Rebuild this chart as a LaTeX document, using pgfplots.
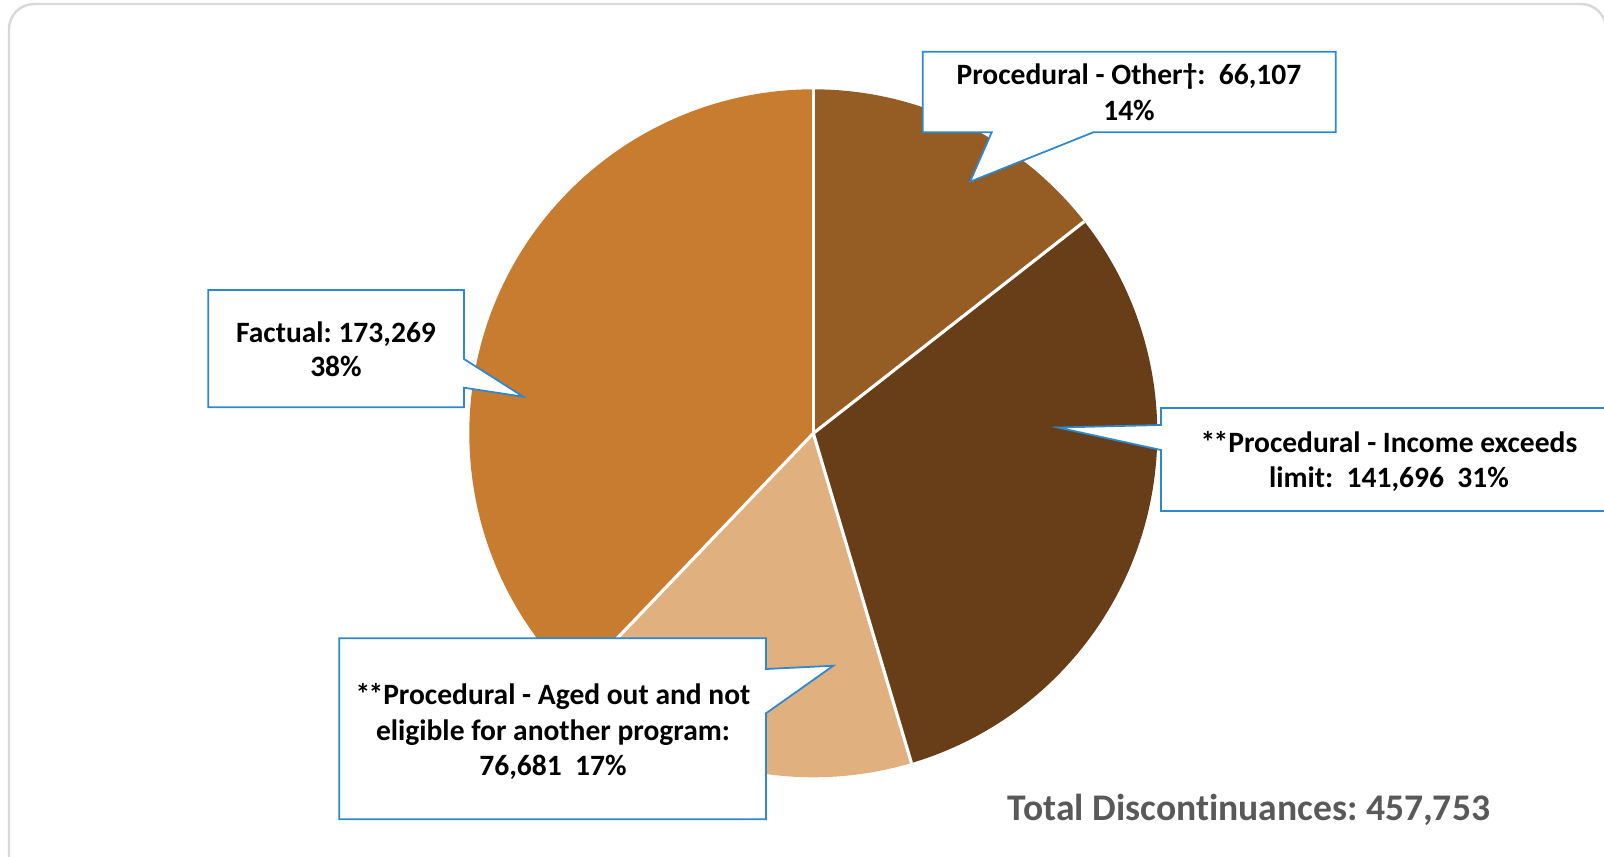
\documentclass[border=0pt]{standalone}
\usepackage{fontspec}
\setmainfont[Ligatures=NoCommon]{Carlito}
\usepackage{pgfplots}
\usepackage{pgfplotstable}
\pgfplotsset{compat=1.18}
\frenchspacing
\definecolor{cOther}{HTML}{955C23}
\definecolor{cIncome}{HTML}{673E18}
\definecolor{cAged}{HTML}{E0B07F}
\definecolor{cFact}{HTML}{C87C2F}
\definecolor{cBox}{HTML}{2E88CE}
\definecolor{cTot}{HTML}{595959}
\definecolor{cFrame}{HTML}{D9D9D9}
\pgfplotstableread[col sep=comma]{
label,value
Other,66107
Income,141696
Aged,76681
Factual,173269
}\piedata
\begin{document}
\frenchspacing
\begin{tikzpicture}
\pgfplotstablegetelem{0}{value}\of\piedata \let\va\pgfplotsretval
\pgfplotstablegetelem{1}{value}\of\piedata \let\vb\pgfplotsretval
\pgfplotstablegetelem{2}{value}\of\piedata \let\vc\pgfplotsretval
\pgfplotstablegetelem{3}{value}\of\piedata \let\vd\pgfplotsretval
\pgfkeys{/pgf/fpu=true,/pgf/fpu/output format=fixed}
\pgfmathsetmacro\tot{\va+\vb+\vc+\vd}
\pgfmathsetmacro\aA{90-360*\va/\tot}
\pgfmathsetmacro\aB{\aA-360*\vb/\tot}
\pgfmathsetmacro\aC{\aB-360*\vc/\tot}
\pgfkeys{/pgf/fpu=false}
\def\PR{3.44cm}
\begin{axis}[
  width=16.04cm, height=8.56cm, scale only axis,
  xmin=0, xmax=1604, ymin=0, ymax=856, y dir=reverse,
  hide axis, clip=true,
]
% frame
\draw[cFrame, line width=0.7pt, rounded corners=0.25cm]
  (axis cs:9,860) -- (axis cs:9,4) -- (axis cs:1606,4) -- (axis cs:1606,860);
% pie wedges
\fill[cOther] (axis cs:813.3,433.3) -- ++(90:\PR) arc[start angle=90, end angle=\aA, radius=\PR] -- cycle;
\fill[cIncome] (axis cs:813.3,433.3) -- ++(\aA:\PR) arc[start angle=\aA, end angle=\aB, radius=\PR] -- cycle;
\fill[cAged] (axis cs:813.3,433.3) -- ++(\aB:\PR) arc[start angle=\aB, end angle=\aC, radius=\PR] -- cycle;
\fill[cFact] (axis cs:813.3,433.3) -- ++(\aC:\PR) arc[start angle=\aC, end angle=-270, radius=\PR] -- cycle;
\draw[white, line width=0.9pt] (axis cs:813.3,433.3) -- ++(90:\PR);
\draw[white, line width=0.9pt] (axis cs:813.3,433.3) -- ++(\aA:\PR);
\draw[white, line width=0.9pt] (axis cs:813.3,433.3) -- ++(\aB:\PR);
\draw[white, line width=0.9pt] (axis cs:813.3,433.3) -- ++(\aC:\PR);
% callouts
\filldraw[fill=white, draw=cBox, line width=0.5pt]
  (axis cs:922.7,51.7) -- (axis cs:1335.7,51.7) -- (axis cs:1335.7,132.3) -- (axis cs:1093.3,132.3)
  -- (axis cs:970,181.7) -- (axis cs:991.7,132.3) -- (axis cs:922.7,132.3) -- cycle;
\filldraw[fill=white, draw=cBox, line width=0.5pt]
  (axis cs:208.3,290) -- (axis cs:464,290) -- (axis cs:464,359) -- (axis cs:523.3,396.7)
  -- (axis cs:464,387.7) -- (axis cs:464,407.3) -- (axis cs:208.3,407.3) -- cycle;
\fill[white]
  (axis cs:1620,408) -- (axis cs:1161,408) -- (axis cs:1161,425) -- (axis cs:1058,427.5)
  -- (axis cs:1161,450) -- (axis cs:1161,511) -- (axis cs:1620,511) -- cycle;
\draw[cBox, line width=0.5pt]
  (axis cs:1620,408) -- (axis cs:1161,408) -- (axis cs:1161,425) -- (axis cs:1058,427.5)
  -- (axis cs:1161,450) -- (axis cs:1161,511) -- (axis cs:1620,511);
\filldraw[fill=white, draw=cBox, line width=0.5pt]
  (axis cs:339.3,638.3) -- (axis cs:766,638.3) -- (axis cs:766,669) -- (axis cs:833.3,665.7)
  -- (axis cs:766,713.3) -- (axis cs:766,819.3) -- (axis cs:339.3,819.3) -- cycle;
% texts
\node[anchor=base, inner sep=0pt, font=\fontsize{8.4}{10}\selectfont\bfseries] at (axis cs:1129,84) {Procedural - Other†:\ \ 66,107};
\node[anchor=base, inner sep=0pt, font=\fontsize{8.4}{10}\selectfont\bfseries] at (axis cs:1129,120) {14\%};
\node[anchor=base, inner sep=0pt, font=\fontsize{8.4}{10}\selectfont\bfseries] at (axis cs:336,342) {Factual: 173,269};
\node[anchor=base, inner sep=0pt, font=\fontsize{8.4}{10}\selectfont\bfseries] at (axis cs:336,376) {38\%};
\node[anchor=base, inner sep=0pt, font=\fontsize{8.4}{10}\selectfont\bfseries] at (axis cs:1389,452) {*\kern-0.5pt*Procedural - Income exceeds};
\node[anchor=base, inner sep=0pt, font=\fontsize{8.4}{10}\selectfont\bfseries] at (axis cs:1389,487) {limit:\ \ 141,696\ \ 31\%};
\node[anchor=base, inner sep=0pt, font=\fontsize{8.4}{10}\selectfont\bfseries] at (axis cs:553,704) {*\kern-0.5pt*Procedural - Aged out and not};
\node[anchor=base, inner sep=0pt, font=\fontsize{8.4}{10}\selectfont\bfseries] at (axis cs:553,740) {eligible for another program:};
\node[anchor=base, inner sep=0pt, font=\fontsize{8.4}{10}\selectfont\bfseries] at (axis cs:553,775) {76,681\ \ 17\%};
\node[anchor=base, inner sep=0pt, text=cTot, font=\fontsize{10.7}{13}\selectfont\bfseries]
  at (axis cs:1249,820) {Total Discontinuances: 457,753};
\end{axis}
\pgfresetboundingbox
\path (current axis.south west) rectangle (current axis.north east);
\end{tikzpicture}
\end{document}
